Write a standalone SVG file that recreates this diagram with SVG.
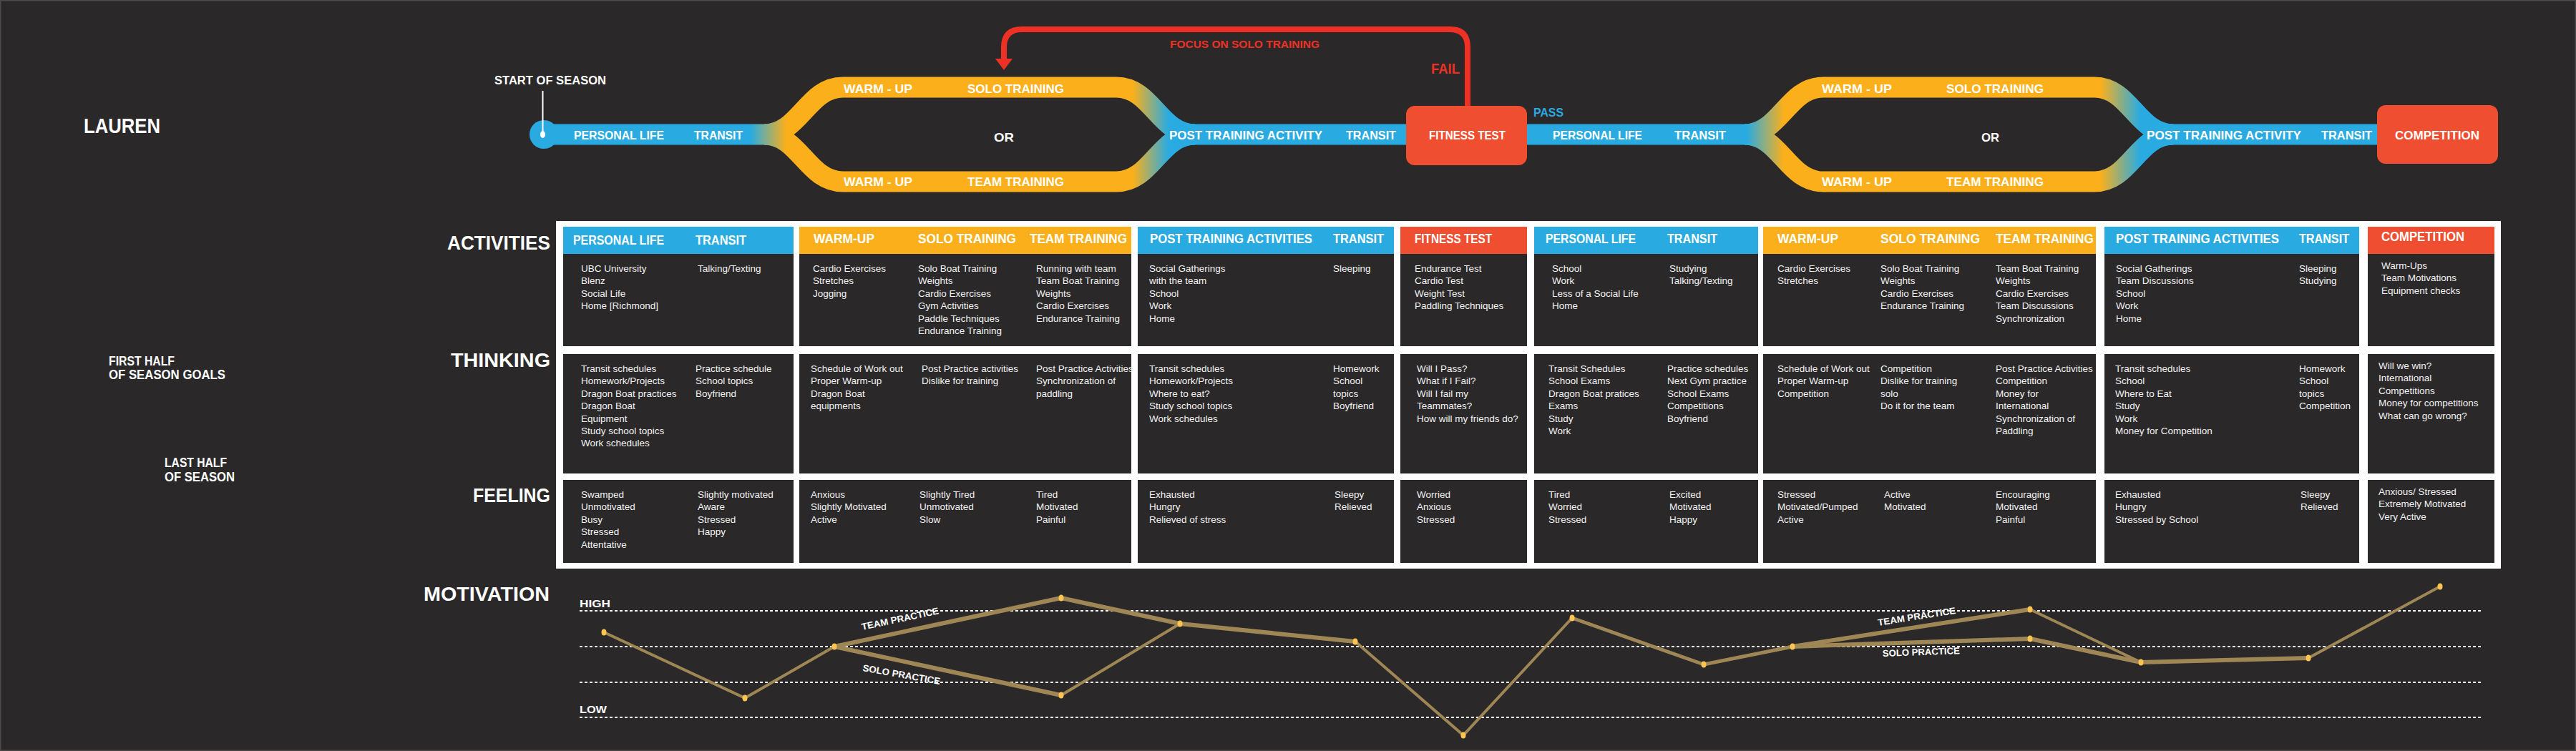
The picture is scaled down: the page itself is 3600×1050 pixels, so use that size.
<svg xmlns="http://www.w3.org/2000/svg" width="3600" height="1050" viewBox="0 0 3600 1050">
<defs>
<linearGradient id="trackGrad" gradientUnits="userSpaceOnUse" x1="700" y1="0" x2="3350" y2="0">
<stop offset="0" stop-color="#29abe2"/>
<stop offset="0.1317" stop-color="#29abe2"/>
<stop offset="0.1506" stop-color="#fbb01b"/>
<stop offset="0.3332" stop-color="#fbb01b"/>
<stop offset="0.3521" stop-color="#29abe2"/>
<stop offset="0.6570" stop-color="#29abe2"/>
<stop offset="0.6766" stop-color="#fbb01b"/>
<stop offset="0.8434" stop-color="#fbb01b"/>
<stop offset="0.8645" stop-color="#29abe2"/>
<stop offset="1" stop-color="#29abe2"/>
</linearGradient>
<style>
.bold{font-family:"Liberation Sans",Arial,sans-serif;font-weight:bold;fill:#ffffff}
.trk{font-size:17px}
.hd{font-size:17.5px}
.row{font-size:28px}
.b{font-family:"Liberation Sans",Arial,sans-serif;font-size:13.5px;fill:#f2f2f2}
.pipe{fill:none;stroke:url(#trackGrad);stroke-width:29}
.cell{fill:#2b2829}
.blue{fill:#29abe2}
.orange{fill:#fbb01b}
.redh{fill:#f04e30}
.dot{stroke:#ffffff;stroke-width:2;stroke-dasharray:4 3;fill:none}
.ml{fill:none;stroke:#9f8655;stroke-linejoin:round;stroke-linecap:round}
.pt{fill:#fcc552}
.pl{font-family:"Liberation Sans",Arial,sans-serif;font-weight:bold;font-size:13px;fill:#ffffff}
</style>
</defs>
<rect x="0" y="0" width="3600" height="1050" fill="#2b2829"/>
<rect x="0.75" y="0.75" width="3598.5" height="1048.5" fill="none" stroke="#4d4a48" stroke-width="1.5"/>

<g id="labels">
<text class="bold" x="117" y="186" font-size="29" textLength="107" lengthAdjust="spacingAndGlyphs">LAUREN</text>
<text class="bold" x="152" y="511" font-size="18.5" textLength="92" lengthAdjust="spacingAndGlyphs">FIRST HALF</text>
<text class="bold" x="152" y="530" font-size="18.5" textLength="163" lengthAdjust="spacingAndGlyphs">OF SEASON GOALS</text>
<text class="bold" x="230" y="653" font-size="18.5" textLength="87" lengthAdjust="spacingAndGlyphs">LAST HALF</text>
<text class="bold" x="230" y="673" font-size="18.5" textLength="98" lengthAdjust="spacingAndGlyphs">OF SEASON</text>
<text class="bold row" x="625" y="349" textLength="144" lengthAdjust="spacingAndGlyphs">ACTIVITIES</text>
<text class="bold row" x="630" y="513" textLength="139" lengthAdjust="spacingAndGlyphs">THINKING</text>
<text class="bold row" x="661" y="702" textLength="108" lengthAdjust="spacingAndGlyphs">FEELING</text>
<text class="bold row" x="592" y="840" font-size="26" textLength="176" lengthAdjust="spacingAndGlyphs">MOTIVATION</text>
</g>

<g id="track">
<path class="pipe" d="M758,188 H1078"/>
<path class="pipe" d="M1068,188 C1118,188 1128,122 1178,122 H1560 C1610,122 1620,188 1670,188"/>
<path class="pipe" d="M1068,188 C1118,188 1128,254 1178,254 H1560 C1610,254 1620,188 1670,188"/>
<path class="pipe" d="M1660,188 H2448"/>
<path class="pipe" d="M2438,188 C2488,188 2498,122 2548,122 H2927 C2977,122 2987,188 3037,188"/>
<path class="pipe" d="M2438,188 C2488,188 2498,254 2548,254 H2927 C2977,254 2987,188 3037,188"/>
<path class="pipe" d="M3027,188 H3330"/>
</g>

<g id="start">
<circle cx="760" cy="188" r="20" fill="#29abe2"/>
<line x1="758.5" y1="127" x2="758.5" y2="188" stroke="#ffffff" stroke-width="2"/>
<ellipse cx="758.5" cy="188" rx="3.5" ry="5" fill="#ffffff"/>
<text class="bold" x="691" y="118" font-size="16" textLength="156" lengthAdjust="spacingAndGlyphs">START OF SEASON</text>
</g>

<g id="track-labels">
<text class="bold trk" x="802" y="195" textLength="126" lengthAdjust="spacingAndGlyphs">PERSONAL LIFE</text>
<text class="bold trk" x="970" y="195" textLength="68" lengthAdjust="spacingAndGlyphs">TRANSIT</text>
<text class="bold trk" x="1179" y="130" textLength="96" lengthAdjust="spacingAndGlyphs">WARM - UP</text>
<text class="bold trk" x="1352" y="130" textLength="135" lengthAdjust="spacingAndGlyphs">SOLO TRAINING</text>
<text class="bold trk" x="1389" y="198" textLength="28" lengthAdjust="spacingAndGlyphs">OR</text>
<text class="bold trk" x="1179" y="260" textLength="96" lengthAdjust="spacingAndGlyphs">WARM - UP</text>
<text class="bold trk" x="1352" y="260" textLength="135" lengthAdjust="spacingAndGlyphs">TEAM TRAINING</text>
<text class="bold trk" x="1634" y="195" textLength="214" lengthAdjust="spacingAndGlyphs">POST TRAINING ACTIVITY</text>
<text class="bold trk" x="1881" y="195" textLength="70" lengthAdjust="spacingAndGlyphs">TRANSIT</text>
<text class="bold trk" x="2170" y="195" textLength="125" lengthAdjust="spacingAndGlyphs">PERSONAL LIFE</text>
<text class="bold trk" x="2340" y="195" textLength="72" lengthAdjust="spacingAndGlyphs">TRANSIT</text>
<text class="bold trk" x="2546" y="130" textLength="98" lengthAdjust="spacingAndGlyphs">WARM - UP</text>
<text class="bold trk" x="2720" y="130" textLength="136" lengthAdjust="spacingAndGlyphs">SOLO TRAINING</text>
<text class="bold trk" x="2769" y="198" textLength="25" lengthAdjust="spacingAndGlyphs">OR</text>
<text class="bold trk" x="2546" y="260" textLength="98" lengthAdjust="spacingAndGlyphs">WARM - UP</text>
<text class="bold trk" x="2720" y="260" textLength="136" lengthAdjust="spacingAndGlyphs">TEAM TRAINING</text>
<text class="bold trk" x="3000" y="195" textLength="216" lengthAdjust="spacingAndGlyphs">POST TRAINING ACTIVITY</text>
<text class="bold trk" x="3244" y="195" textLength="71" lengthAdjust="spacingAndGlyphs">TRANSIT</text>
</g>

<g id="fitness-test">
<rect x="1965" y="148" width="169" height="83" rx="12" fill="#f04e30"/>
<text class="bold trk" x="1997" y="195" textLength="107" lengthAdjust="spacingAndGlyphs">FITNESS TEST</text>
</g>

<g id="competition">
<rect x="3322" y="147" width="169" height="82" rx="12" fill="#f04e30"/>
<text class="bold trk" x="3347" y="195" textLength="118" lengthAdjust="spacingAndGlyphs">COMPETITION</text>
</g>

<g id="connectors">
<path d="M2051,148 V66 Q2051,41 2026,41 H1428 Q1403,41 1403,66 V84" fill="none" stroke="#ee3124" stroke-width="8"/>
<polygon points="1391,82 1415,82 1403,98" fill="#ee3124"/>
<text class="bold" x="1635" y="67" font-size="14.5" style="fill:#ee3124" textLength="209" lengthAdjust="spacingAndGlyphs">FOCUS ON SOLO TRAINING</text>
<text class="bold" x="2000" y="103" font-size="19.5" style="fill:#ee3124" textLength="40" lengthAdjust="spacingAndGlyphs">FAIL</text>
<text class="bold" x="2143" y="163" font-size="17" style="fill:#29abe2" textLength="42" lengthAdjust="spacingAndGlyphs">PASS</text>
</g>

<g id="table">
<rect x="777" y="309" width="2718" height="486" fill="#ffffff"/>

<g id="col-1">
<rect class="blue" x="787" y="317" width="322" height="38"/>
<rect class="cell" x="787" y="355" width="322" height="129"/>
<rect class="cell" x="787" y="495" width="322" height="167"/>
<rect class="cell" x="787" y="671" width="322" height="116"/>
<text class="bold hd" x="801" y="342" textLength="127" lengthAdjust="spacingAndGlyphs">PERSONAL LIFE</text>
<text class="bold hd" x="972" y="342" textLength="71" lengthAdjust="spacingAndGlyphs">TRANSIT</text>
<text class="b" y="380"><tspan x="812">UBC University</tspan><tspan x="812" dy="17.4">Blenz</tspan><tspan x="812" dy="17.4">Social Life</tspan><tspan x="812" dy="17.4">Home [Richmond]</tspan></text>
<text class="b" y="380"><tspan x="975">Talking/Texting</tspan></text>
<text class="b" y="520"><tspan x="812">Transit schedules</tspan><tspan x="812" dy="17.4">Homework/Projects</tspan><tspan x="812" dy="17.4">Dragon Boat practices</tspan><tspan x="812" dy="17.4">Dragon Boat</tspan><tspan x="812" dy="17.4">Equipment</tspan><tspan x="812" dy="17.4">Study school topics</tspan><tspan x="812" dy="17.4">Work schedules</tspan></text>
<text class="b" y="520"><tspan x="972">Practice schedule</tspan><tspan x="972" dy="17.4">School topics</tspan><tspan x="972" dy="17.4">Boyfriend</tspan></text>
<text class="b" y="696"><tspan x="812">Swamped</tspan><tspan x="812" dy="17.4">Unmotivated</tspan><tspan x="812" dy="17.4">Busy</tspan><tspan x="812" dy="17.4">Stressed</tspan><tspan x="812" dy="17.4">Attentative</tspan></text>
<text class="b" y="696"><tspan x="975">Slightly motivated</tspan><tspan x="975" dy="17.4">Aware</tspan><tspan x="975" dy="17.4">Stressed</tspan><tspan x="975" dy="17.4">Happy</tspan></text>
</g>

<g id="col-2">
<rect class="orange" x="1117" y="317" width="464" height="38"/>
<rect class="cell" x="1117" y="355" width="464" height="129"/>
<rect class="cell" x="1117" y="495" width="464" height="167"/>
<rect class="cell" x="1117" y="671" width="464" height="116"/>
<text class="bold hd" x="1137" y="340" textLength="85" lengthAdjust="spacingAndGlyphs">WARM-UP</text>
<text class="bold hd" x="1283" y="340" textLength="137" lengthAdjust="spacingAndGlyphs">SOLO TRAINING</text>
<text class="bold hd" x="1439" y="340" textLength="136" lengthAdjust="spacingAndGlyphs">TEAM TRAINING</text>
<text class="b" y="380"><tspan x="1136">Cardio Exercises</tspan><tspan x="1136" dy="17.4">Stretches</tspan><tspan x="1136" dy="17.4">Jogging</tspan></text>
<text class="b" y="380"><tspan x="1283">Solo Boat Training</tspan><tspan x="1283" dy="17.4">Weights</tspan><tspan x="1283" dy="17.4">Cardio Exercises</tspan><tspan x="1283" dy="17.4">Gym Activities</tspan><tspan x="1283" dy="17.4">Paddle Techniques</tspan><tspan x="1283" dy="17.4">Endurance Training</tspan></text>
<text class="b" y="380"><tspan x="1448">Running with team</tspan><tspan x="1448" dy="17.4">Team Boat Training</tspan><tspan x="1448" dy="17.4">Weights</tspan><tspan x="1448" dy="17.4">Cardio Exercises</tspan><tspan x="1448" dy="17.4">Endurance Training</tspan></text>
<text class="b" y="520"><tspan x="1133">Schedule of Work out</tspan><tspan x="1133" dy="17.4">Proper Warm-up</tspan><tspan x="1133" dy="17.4">Dragon Boat</tspan><tspan x="1133" dy="17.4">equipments</tspan></text>
<text class="b" y="520"><tspan x="1288">Post Practice activities</tspan><tspan x="1288" dy="17.4">Dislike for training</tspan></text>
<text class="b" y="520"><tspan x="1448">Post Practice Activities</tspan><tspan x="1448" dy="17.4">Synchronization of</tspan><tspan x="1448" dy="17.4">paddling</tspan></text>
<text class="b" y="696"><tspan x="1133">Anxious</tspan><tspan x="1133" dy="17.4">Slightly Motivated</tspan><tspan x="1133" dy="17.4">Active</tspan></text>
<text class="b" y="696"><tspan x="1285">Slightly Tired</tspan><tspan x="1285" dy="17.4">Unmotivated</tspan><tspan x="1285" dy="17.4">Slow</tspan></text>
<text class="b" y="696"><tspan x="1448">Tired</tspan><tspan x="1448" dy="17.4">Motivated</tspan><tspan x="1448" dy="17.4">Painful</tspan></text>
</g>

<g id="col-3">
<rect class="blue" x="1590" y="317" width="358" height="38"/>
<rect class="cell" x="1590" y="355" width="358" height="129"/>
<rect class="cell" x="1590" y="495" width="358" height="167"/>
<rect class="cell" x="1590" y="671" width="358" height="116"/>
<text class="bold hd" x="1607" y="340" textLength="227" lengthAdjust="spacingAndGlyphs">POST TRAINING ACTIVITIES</text>
<text class="bold hd" x="1863" y="340" textLength="71" lengthAdjust="spacingAndGlyphs">TRANSIT</text>
<text class="b" y="380"><tspan x="1606">Social Gatherings</tspan><tspan x="1606" dy="17.4">with the team</tspan><tspan x="1606" dy="17.4">School</tspan><tspan x="1606" dy="17.4">Work</tspan><tspan x="1606" dy="17.4">Home</tspan></text>
<text class="b" y="380"><tspan x="1863">Sleeping</tspan></text>
<text class="b" y="520"><tspan x="1606">Transit schedules</tspan><tspan x="1606" dy="17.4">Homework/Projects</tspan><tspan x="1606" dy="17.4">Where to eat?</tspan><tspan x="1606" dy="17.4">Study school topics</tspan><tspan x="1606" dy="17.4">Work schedules</tspan></text>
<text class="b" y="520"><tspan x="1863">Homework</tspan><tspan x="1863" dy="17.4">School</tspan><tspan x="1863" dy="17.4">topics</tspan><tspan x="1863" dy="17.4">Boyfriend</tspan></text>
<text class="b" y="696"><tspan x="1606">Exhausted</tspan><tspan x="1606" dy="17.4">Hungry</tspan><tspan x="1606" dy="17.4">Relieved of stress</tspan></text>
<text class="b" y="696"><tspan x="1865">Sleepy</tspan><tspan x="1865" dy="17.4">Relieved</tspan></text>
</g>

<g id="col-4">
<rect class="redh" x="1957" y="317" width="177" height="38"/>
<rect class="cell" x="1957" y="355" width="177" height="129"/>
<rect class="cell" x="1957" y="495" width="177" height="167"/>
<rect class="cell" x="1957" y="671" width="177" height="116"/>
<text class="bold hd" x="1977" y="340" textLength="108" lengthAdjust="spacingAndGlyphs">FITNESS TEST</text>
<text class="b" y="380"><tspan x="1977">Endurance Test</tspan><tspan x="1977" dy="17.4">Cardio Test</tspan><tspan x="1977" dy="17.4">Weight Test</tspan><tspan x="1977" dy="17.4">Paddling Techniques</tspan></text>
<text class="b" y="520"><tspan x="1980">Will I Pass?</tspan><tspan x="1980" dy="17.4">What if I Fail?</tspan><tspan x="1980" dy="17.4">Will I fail my</tspan><tspan x="1980" dy="17.4">Teammates?</tspan><tspan x="1980" dy="17.4">How will my friends do?</tspan></text>
<text class="b" y="696"><tspan x="1980">Worried</tspan><tspan x="1980" dy="17.4">Anxious</tspan><tspan x="1980" dy="17.4">Stressed</tspan></text>
</g>

<g id="col-5">
<rect class="blue" x="2144" y="317" width="313" height="38"/>
<rect class="cell" x="2144" y="355" width="313" height="129"/>
<rect class="cell" x="2144" y="495" width="313" height="167"/>
<rect class="cell" x="2144" y="671" width="313" height="116"/>
<text class="bold hd" x="2160" y="340" textLength="126" lengthAdjust="spacingAndGlyphs">PERSONAL LIFE</text>
<text class="bold hd" x="2330" y="340" textLength="70" lengthAdjust="spacingAndGlyphs">TRANSIT</text>
<text class="b" y="380"><tspan x="2169">School</tspan><tspan x="2169" dy="17.4">Work</tspan><tspan x="2169" dy="17.4">Less of a Social Life</tspan><tspan x="2169" dy="17.4">Home</tspan></text>
<text class="b" y="380"><tspan x="2333">Studying</tspan><tspan x="2333" dy="17.4">Talking/Texting</tspan></text>
<text class="b" y="520"><tspan x="2164">Transit Schedules</tspan><tspan x="2164" dy="17.4">School Exams</tspan><tspan x="2164" dy="17.4">Dragon Boat pratices</tspan><tspan x="2164" dy="17.4">Exams</tspan><tspan x="2164" dy="17.4">Study</tspan><tspan x="2164" dy="17.4">Work</tspan></text>
<text class="b" y="520"><tspan x="2330">Practice schedules</tspan><tspan x="2330" dy="17.4">Next Gym practice</tspan><tspan x="2330" dy="17.4">School Exams</tspan><tspan x="2330" dy="17.4">Competitions</tspan><tspan x="2330" dy="17.4">Boyfriend</tspan></text>
<text class="b" y="696"><tspan x="2164">Tired</tspan><tspan x="2164" dy="17.4">Worried</tspan><tspan x="2164" dy="17.4">Stressed</tspan></text>
<text class="b" y="696"><tspan x="2333">Excited</tspan><tspan x="2333" dy="17.4">Motivated</tspan><tspan x="2333" dy="17.4">Happy</tspan></text>
</g>

<g id="col-6">
<rect class="orange" x="2464" y="317" width="465" height="38"/>
<rect class="cell" x="2464" y="355" width="465" height="129"/>
<rect class="cell" x="2464" y="495" width="465" height="167"/>
<rect class="cell" x="2464" y="671" width="465" height="116"/>
<text class="bold hd" x="2484" y="340" textLength="85" lengthAdjust="spacingAndGlyphs">WARM-UP</text>
<text class="bold hd" x="2628" y="340" textLength="139" lengthAdjust="spacingAndGlyphs">SOLO TRAINING</text>
<text class="bold hd" x="2789" y="340" textLength="137" lengthAdjust="spacingAndGlyphs">TEAM TRAINING</text>
<text class="b" y="380"><tspan x="2484">Cardio Exercises</tspan><tspan x="2484" dy="17.4">Stretches</tspan></text>
<text class="b" y="380"><tspan x="2628">Solo Boat Training</tspan><tspan x="2628" dy="17.4">Weights</tspan><tspan x="2628" dy="17.4">Cardio Exercises</tspan><tspan x="2628" dy="17.4">Endurance Training</tspan></text>
<text class="b" y="380"><tspan x="2789">Team Boat Training</tspan><tspan x="2789" dy="17.4">Weights</tspan><tspan x="2789" dy="17.4">Cardio Exercises</tspan><tspan x="2789" dy="17.4">Team Discussions</tspan><tspan x="2789" dy="17.4">Synchronization</tspan></text>
<text class="b" y="520"><tspan x="2484">Schedule of Work out</tspan><tspan x="2484" dy="17.4">Proper Warm-up</tspan><tspan x="2484" dy="17.4">Competition</tspan></text>
<text class="b" y="520"><tspan x="2628">Competition</tspan><tspan x="2628" dy="17.4">Dislike for training</tspan><tspan x="2628" dy="17.4">solo</tspan><tspan x="2628" dy="17.4">Do it for the team</tspan></text>
<text class="b" y="520"><tspan x="2789">Post Practice Activities</tspan><tspan x="2789" dy="17.4">Competition</tspan><tspan x="2789" dy="17.4">Money for</tspan><tspan x="2789" dy="17.4">International</tspan><tspan x="2789" dy="17.4">Synchronization of</tspan><tspan x="2789" dy="17.4">Paddling</tspan></text>
<text class="b" y="696"><tspan x="2484">Stressed</tspan><tspan x="2484" dy="17.4">Motivated/Pumped</tspan><tspan x="2484" dy="17.4">Active</tspan></text>
<text class="b" y="696"><tspan x="2633">Active</tspan><tspan x="2633" dy="17.4">Motivated</tspan></text>
<text class="b" y="696"><tspan x="2789">Encouraging</tspan><tspan x="2789" dy="17.4">Motivated</tspan><tspan x="2789" dy="17.4">Painful</tspan></text>
</g>

<g id="col-7">
<rect class="blue" x="2941" y="317" width="356" height="38"/>
<rect class="cell" x="2941" y="355" width="356" height="129"/>
<rect class="cell" x="2941" y="495" width="356" height="167"/>
<rect class="cell" x="2941" y="671" width="356" height="116"/>
<text class="bold hd" x="2957" y="340" textLength="228" lengthAdjust="spacingAndGlyphs">POST TRAINING ACTIVITIES</text>
<text class="bold hd" x="3213" y="340" textLength="70" lengthAdjust="spacingAndGlyphs">TRANSIT</text>
<text class="b" y="380"><tspan x="2957">Social Gatherings</tspan><tspan x="2957" dy="17.4">Team Discussions</tspan><tspan x="2957" dy="17.4">School</tspan><tspan x="2957" dy="17.4">Work</tspan><tspan x="2957" dy="17.4">Home</tspan></text>
<text class="b" y="380"><tspan x="3213">Sleeping</tspan><tspan x="3213" dy="17.4">Studying</tspan></text>
<text class="b" y="520"><tspan x="2956">Transit schedules</tspan><tspan x="2956" dy="17.4">School</tspan><tspan x="2956" dy="17.4">Where to Eat</tspan><tspan x="2956" dy="17.4">Study</tspan><tspan x="2956" dy="17.4">Work</tspan><tspan x="2956" dy="17.4">Money for Competition</tspan></text>
<text class="b" y="520"><tspan x="3213">Homework</tspan><tspan x="3213" dy="17.4">School</tspan><tspan x="3213" dy="17.4">topics</tspan><tspan x="3213" dy="17.4">Competition</tspan></text>
<text class="b" y="696"><tspan x="2956">Exhausted</tspan><tspan x="2956" dy="17.4">Hungry</tspan><tspan x="2956" dy="17.4">Stressed by School</tspan></text>
<text class="b" y="696"><tspan x="3215">Sleepy</tspan><tspan x="3215" dy="17.4">Relieved</tspan></text>
</g>

<g id="col-8">
<rect class="redh" x="3309" y="317" width="177" height="38"/>
<rect class="cell" x="3309" y="355" width="177" height="129"/>
<rect class="cell" x="3309" y="495" width="177" height="167"/>
<rect class="cell" x="3309" y="671" width="177" height="116"/>
<text class="bold hd" x="3328" y="337" textLength="116" lengthAdjust="spacingAndGlyphs">COMPETITION</text>
<text class="b" y="376"><tspan x="3328">Warm-Ups</tspan><tspan x="3328" dy="17.4">Team Motivations</tspan><tspan x="3328" dy="17.4">Equipment checks</tspan></text>
<text class="b" y="516"><tspan x="3324">Will we win?</tspan><tspan x="3324" dy="17.4">International</tspan><tspan x="3324" dy="17.4">Competitions</tspan><tspan x="3324" dy="17.4">Money for competitions</tspan><tspan x="3324" dy="17.4">What can go wrong?</tspan></text>
<text class="b" y="692"><tspan x="3324">Anxious/ Stressed</tspan><tspan x="3324" dy="17.4">Extremely Motivated</tspan><tspan x="3324" dy="17.4">Very Active</tspan></text>
</g>
</g>

<g id="motivation-chart">
<line class="dot" x1="810" y1="854" x2="3470" y2="854"/>
<line class="dot" x1="810" y1="904" x2="3470" y2="904"/>
<line class="dot" x1="810" y1="954" x2="3470" y2="954"/>
<line class="dot" x1="810" y1="1003" x2="3470" y2="1003"/>
<text class="bold" x="810" y="849" font-size="14" textLength="43" lengthAdjust="spacingAndGlyphs">HIGH</text>
<text class="bold" x="810" y="997" font-size="14" textLength="38" lengthAdjust="spacingAndGlyphs">LOW</text>
<g id="motivation-lines">
<path class="ml" stroke-width="4" d="M844,884 L1041,976 L1166,904"/>
<path class="ml" stroke-width="6" d="M1166,904 L1483,836 L1649,872"/>
<path class="ml" stroke-width="6" d="M1166,904 L1483,972"/>
<path class="ml" stroke-width="4" d="M1483,972 L1649,872"/>
<path class="ml" stroke-width="6" d="M1649,872 L1894,897"/>
<path class="ml" stroke-width="4" d="M1894,897 L2045,1028 L2197,864"/>
<path class="ml" stroke-width="5" d="M2197,864 L2381,929 L2505,904"/>
<path class="ml" stroke-width="6" d="M2505,904 L2837,852"/>
<path class="ml" stroke-width="6" d="M2505,904 L2837,893 L2992,926 L3226,920"/>
<path class="ml" stroke-width="4" d="M2837,852 L2992,926"/>
<path class="ml" stroke-width="4" d="M3226,920 L3410,820"/>
</g>
<g id="motivation-points">
<ellipse class="pt" cx="844" cy="884" rx="3.5" ry="4.5"/>
<ellipse class="pt" cx="1041" cy="976" rx="3.5" ry="4.5"/>
<ellipse class="pt" cx="1166" cy="904" rx="3.5" ry="4.5"/>
<ellipse class="pt" cx="1483" cy="836" rx="3.5" ry="4.5"/>
<ellipse class="pt" cx="1483" cy="972" rx="3.5" ry="4.5"/>
<ellipse class="pt" cx="1649" cy="872" rx="3.5" ry="4.5"/>
<ellipse class="pt" cx="1894" cy="897" rx="3.5" ry="4.5"/>
<ellipse class="pt" cx="2045" cy="1028" rx="3.5" ry="4.5"/>
<ellipse class="pt" cx="2197" cy="864" rx="3.5" ry="4.5"/>
<ellipse class="pt" cx="2381" cy="929" rx="3.5" ry="4.5"/>
<ellipse class="pt" cx="2505" cy="904" rx="3.5" ry="4.5"/>
<ellipse class="pt" cx="2837" cy="852" rx="3.5" ry="4.5"/>
<ellipse class="pt" cx="2837" cy="893" rx="3.5" ry="4.5"/>
<ellipse class="pt" cx="2992" cy="926" rx="3.5" ry="4.5"/>
<ellipse class="pt" cx="3226" cy="920" rx="3.5" ry="4.5"/>
<ellipse class="pt" cx="3410" cy="820" rx="3.5" ry="4.5"/>
</g>
<text class="pl" transform="translate(1205,881) rotate(-12)" textLength="110" lengthAdjust="spacingAndGlyphs">TEAM PRACTICE</text>
<text class="pl" transform="translate(1205,938) rotate(10)" textLength="110" lengthAdjust="spacingAndGlyphs">SOLO PRACTICE</text>
<text class="pl" transform="translate(2625,875) rotate(-9)" textLength="110" lengthAdjust="spacingAndGlyphs">TEAM PRACTICE</text>
<text class="pl" transform="translate(2631,918) rotate(-2)" textLength="108" lengthAdjust="spacingAndGlyphs">SOLO PRACTICE</text>
</g>
</svg>
